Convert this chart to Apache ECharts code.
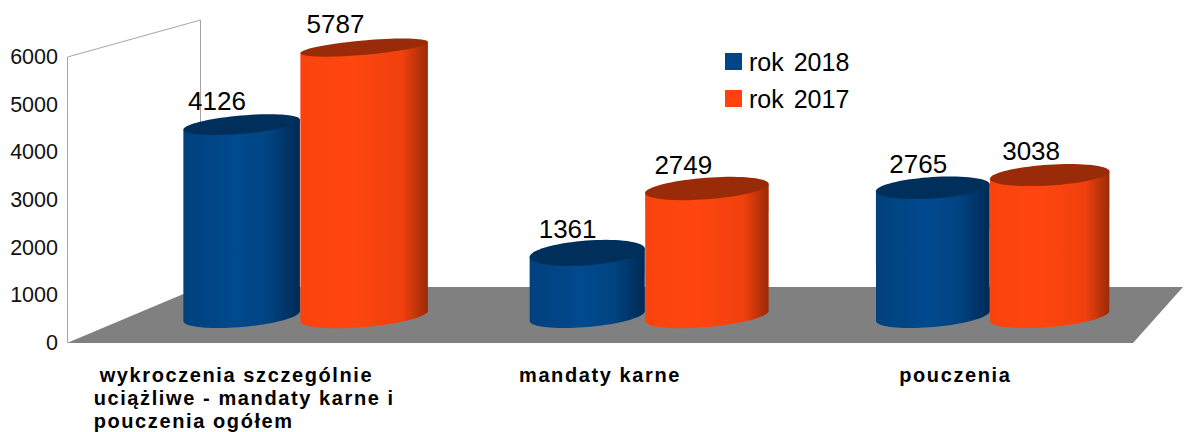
<!DOCTYPE html>
<html>
<head>
<meta charset="utf-8">
<title>wykroczenia</title>
<script src="https://cdn.jsdelivr.net/npm/echarts@6/dist/echarts.min.js"></script>
<style>
  html, body { margin: 0; padding: 0; background: #fff; }
  #main { width: 1185px; height: 432px; }
  /* category labels are spaced out in the original, canvas can't do that so svg + css */
  #main text[style*="bold"] { letter-spacing: 1.6px; }
  /* legend has a wide gap between the words */
  #main text[style*="25px"] { word-spacing: 3px; }
</style>
</head>
<body>
<div id="main"></div>
<script>
  var categories = ['wykroczenia szczególnie\nuciążliwe - mandaty karne i\npouczenia ogółem', 'mandaty karne', 'pouczenia'];
  var rok2018 = [4126, 1361, 2765];
  var rok2017 = [5787, 2749, 3038];
  var yTicks = { min: 0, max: 6000, interval: 1000 };

  var FONT = '"Liberation Sans", Arial, sans-serif';
  var DEG = Math.PI / 180;

  // point on a tilted ellipse, t in radians
  function ell(cx, cy, a, b, tilt, t) {
    var ex = a * Math.cos(t), ey = b * Math.sin(t);
    return [cx + ex * Math.cos(tilt) + ey * Math.sin(tilt), cy - ex * Math.sin(tilt) + ey * Math.cos(tilt)];
  }

  function cylinder(side, stops, topColor) {
    return function (params, api) {
      var p = api.coord([api.value(0), api.value(1)]);
      var zero = api.coord([api.value(0), 0]);
      // bars stand in the middle of the floor, so they move right by part of the depth
      var joint = p[0] + 62.7 - 0.02954 * p[0];
      var w = side < 0 ? 117 - 0.0042 * (p[0] - 244) : 128 - 0.0116 * (p[0] - 244);
      var cx = joint + side * w / 2;
      var a = w / 2;
      var baseY = zero[1] - 27;
      var topY = baseY - (zero[1] - p[1]) * 0.973;
      var topB = 6 + 0.025 * topY;
      var tilt = (5 - 0.002 * (joint - 300)) * DEG;

      var body = [ell(cx, topY, a, topB, tilt, Math.PI), ell(cx, topY, a, topB, tilt, 0)];
      var topPts = [];
      var i;
      for (i = 0; i <= 40; i++) {
        body.push(ell(cx, baseY, a, 11, 5 * DEG, Math.PI * i / 40));
      }
      for (i = 0; i < 72; i++) {
        topPts.push(ell(cx, topY, a, topB, tilt, 2 * Math.PI * i / 72));
      }
      return {
        type: 'group',
        children: [
          {
            type: 'polygon',
            shape: { points: body },
            style: { fill: new echarts.graphic.LinearGradient(0, 0, 1, 0, stops) }
          },
          { type: 'polygon', shape: { points: topPts }, style: { fill: topColor } },
          {
            type: 'text',
            style: {
              text: String(api.value(1)),
              x: cx - (joint - p[0]) * 0.48 - side * 2,
              y: topY - 24,
              align: 'center',
              verticalAlign: 'middle',
              fill: '#000',
              font: '26px ' + FONT
            }
          }
        ]
      };
    };
  }

  // floor and the left wall
  function backdrop(params, api) {
    var g = params.coordSys;
    var x0 = g.x, x1 = g.x + g.width, y0 = g.y + g.height, yTop = g.y;
    var backX = x0 + 133, backY = y0 - 56, wallTop = yTop - 37;
    var wall = { stroke: '#a6a6a6', fill: null, lineWidth: 1 };
    return {
      type: 'group',
      children: [
        {
          type: 'polygon',
          shape: { points: [[x0, y0], [x1, y0], [x1 + 50, backY], [backX, backY]] },
          style: { fill: '#808080' }
        },
        {
          type: 'polyline',
          shape: { points: [[x0 + 0.5, y0], [x0 + 0.5, yTop], [backX + 0.5, wallTop], [backX + 0.5, backY]] },
          style: wall
        }
      ]
    };
  }

  var blueStops = [
    { offset: 0, color: '#00417d' }, { offset: 0.45, color: '#004a8e' },
    { offset: 0.72, color: '#004482' }, { offset: 1, color: '#002a55' }
  ];
  var orangeStops = [
    { offset: 0, color: '#f9430e' }, { offset: 0.4, color: '#ff460f' },
    { offset: 0.8, color: '#f0400d' }, { offset: 1, color: '#9a2b08' }
  ];

  function toData(values) {
    return values.map(function (v, i) { return [i, v]; });
  }

  var myChart = echarts.init(document.getElementById('main'), null, { renderer: 'svg' });
  myChart.setOption({
    animation: false,
    backgroundColor: '#fff',
    // long category label runs to the bottom edge, don't let the grid shrink for it
    grid: { left: 67, right: 52, top: 57, bottom: 89, outerBoundsMode: 'none' },
    legend: {
      orient: 'vertical',
      left: 725,
      top: 49,
      padding: 0,
      icon: 'rect',
      itemWidth: 17,
      itemHeight: 17,
      itemGap: 12,
      data: ['rok 2018', 'rok 2017'],
      textStyle: { fontFamily: FONT, fontSize: 25, color: '#000', padding: [0, 0, 0, 2] }
    },
    xAxis: {
      type: 'category',
      data: categories,
      axisLine: { show: false },
      axisTick: { show: false },
      axisLabel: {
        interval: 0,
        margin: 20,
        formatter: function (value) {
          var lines = value.split('\n');
          if (lines.length == 1) return '{c|' + value + '}';
          return lines.map(function (l, i) { return (i == 0 ? '{f|' : '{l|') + l + '}'; }).join('\n');
        },
        rich: {
          f: { width: 296, padding: [0, 0, 0, 6], align: 'left', fontFamily: FONT, fontSize: 20, fontWeight: 'bold', lineHeight: 23, color: '#000' },
          l: { width: 302, align: 'left', fontFamily: FONT, fontSize: 20, fontWeight: 'bold', lineHeight: 23, color: '#000' },
          c: { fontFamily: FONT, fontSize: 20, fontWeight: 'bold', lineHeight: 23, color: '#000' }
        }
      }
    },
    yAxis: {
      type: 'value',
      min: yTicks.min,
      max: yTicks.max,
      interval: yTicks.interval,
      splitLine: { show: false },
      axisLine: { show: false },
      axisTick: { show: false },
      axisLabel: {
        margin: 9,
        fontFamily: FONT,
        fontSize: 21.5,
        color: '#111',
        formatter: function (v) { return String(v); }
      }
    },
    series: [
      { name: 'backdrop', type: 'custom', coordinateSystem: 'cartesian2d', silent: true, clip: false, data: [[0, 0]], renderItem: backdrop, z: 1 },
      { name: 'rok 2018', type: 'custom', clip: false, data: toData(rok2018), encode: { x: 0, y: 1 }, itemStyle: { color: '#004586' }, renderItem: cylinder(-1, blueStops, '#002f5c'), z: 2 },
      { name: 'rok 2017', type: 'custom', clip: false, data: toData(rok2017), encode: { x: 0, y: 1 }, itemStyle: { color: '#ff420e' }, renderItem: cylinder(1, orangeStops, '#9a2b08'), z: 3 }
    ]
  });
</script>
</body>
</html>
